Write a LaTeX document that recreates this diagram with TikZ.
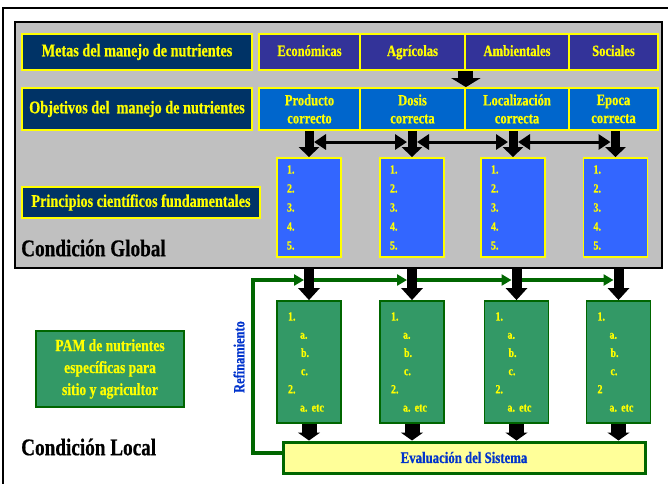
\documentclass[tikz,border=0pt]{standalone}
\usepackage{fontspec}
\setmainfont{Liberation Serif}[FakeStretch=0.8,BoldFeatures={FakeBold=0.6}]
\usetikzlibrary{arrows.meta,calc}
\definecolor{navy}{HTML}{003366}
\definecolor{purp}{HTML}{333399}
\definecolor{midblue}{HTML}{0066CC}
\definecolor{brblue}{HTML}{3366FF}
\definecolor{grn}{HTML}{339966}
\definecolor{dgrn}{HTML}{006600}
\definecolor{ylw}{HTML}{FFFF00}
\definecolor{lylw}{HTML}{FFFF99}
\definecolor{pgray}{HTML}{C0C0C0}
\definecolor{txtblue}{HTML}{0033CC}
\begin{document}
\begin{tikzpicture}[x=1pt,y=-1pt,
  box/.style={draw=ylw,line width=1.8pt,text=ylw,inner sep=0pt,align=center,
    font=\frenchspacing\bfseries\fontsize{15.7}{18}\selectfont},
  lbl/.style={box,fill=navy,font=\bfseries\fontsize{17.8}{20}\selectfont},
  meta/.style={box,fill=purp,minimum height=36pt,text height=11pt,text depth=3pt},
  obj/.style={box,fill=midblue,minimum height=42pt},
  pbox/.style={box,fill=brblue,minimum height=99pt,text width=44pt,inner xsep=10pt,
    align=left,font=\bfseries\fontsize{12.5}{19}\selectfont},
  gbox/.style={draw=dgrn,line width=1.8pt,fill=grn,text=ylw,inner sep=0pt,
    minimum height=122pt,text width=42pt,inner xsep=11pt,align=left,
    font=\frenchspacing\bfseries\fontsize{12.5}{18.2}\selectfont},
  panelbox/.style={draw=black,line width=2.5pt,fill=pgray,inner sep=0pt},
  bigtxt/.style={anchor=west,inner sep=0pt,font=\bfseries\fontsize{24}{26}\selectfont},
  bigblk/.style={line width=15pt,-{Triangle[width=29pt,length=9pt]}},
  blk/.style={line width=9pt,-{Triangle[width=20pt,length=10pt]}},
  blktwo/.style={line width=10pt,-{Triangle[width=21pt,length=12pt]}},
  blkthree/.style={line width=15pt,-{Triangle[width=22pt,length=8pt]}},
  dbl/.style={line width=3pt,{Triangle[width=15pt,length=12pt]}-{Triangle[width=15pt,length=12pt]}},
  garr/.style={draw=dgrn,line width=4pt,-{Triangle[width=11pt,length=10pt]}}
]
\useasboundingbox (0,0) rectangle (668,483);
\draw[line width=1.4pt] (3,490) -- (3,8) -- (672,8);

\node[panelbox,minimum width=647pt,minimum height=246pt] (panel) at (338.5,145) {};

% metas row
\node[lbl,minimum width=230pt,minimum height=36pt] (metas) at (137,52) {Metas del manejo de nutrientes};
\node[meta,minimum width=101pt] (eco) at (309.5,52) {Económicas};
\node[meta,minimum width=105pt] (agr) at (412.5,52) {Agrícolas};
\node[meta,minimum width=104pt] (amb) at (517,52) {Ambientales};
\node[meta,minimum width=89pt] (soc) at (613.5,52) {Sociales};

% objetivos row
\node[lbl,minimum width=230pt,minimum height=42pt] (objl) at (137,109) {Objetivos del\ \ manejo de nutrientes};
\node[obj,minimum width=101pt] (prod) at (309.5,109) {Producto\\correcto};
\node[obj,minimum width=105pt] (dos) at (412.5,109) {Dosis\\correcta};
\node[obj,minimum width=104pt] (loc) at (517,109) {Localización\\correcta};
\node[obj,minimum width=89pt] (epo) at (613.5,109) {Epoca\\correcta};

% principios
\node[lbl,minimum width=238pt,minimum height=31pt] (princ) at (141,202.5) {Principios científicos fundamentales};
\node[pbox] (p1) at (309,207.5) {1.\\2.\\3.\\4.\\5.};
\node[pbox] (p2) at (412,207.5) {1.\\2.\\3.\\4.\\5.};
\node[pbox] (p3) at (513,207.5) {1.\\2.\\3.\\4.\\5.};
\node[pbox] (p4) at (615.5,207.5) {1.\\2.\\3.\\4.\\5.};
\node[bigtxt] (glob) at (21,248) {Condición Global};

% arrows in panel
\draw[bigblk] (agr.south east) -- (dos.north east);
\coordinate (hy) at (0,142);
\draw[blk] (p1.north |- prod.south) -- (p1.north);
\draw[blk] (p2.north |- dos.south) -- (p2.north);
\draw[blk] (p3.north |- loc.south) -- (p3.north);
\draw[blk] (p4.north |- epo.south) -- (p4.north);
\draw[dbl] ([xshift=5pt]p1.north |- hy) -- ([xshift=-5pt]p2.north |- hy);
\draw[dbl] ([xshift=5pt]p2.north |- hy) -- ([xshift=-5pt]p3.north |- hy);
\draw[dbl] ([xshift=5pt]p3.north |- hy) -- ([xshift=-5pt]p4.north |- hy);

% local part
\node[gbox] (g1) at (309,362) {1.\\\hspace*{12pt}a.\\\hspace*{13pt}b.\\\hspace*{13pt}c.\\2.\\\hspace*{12pt}a. etc};
\node[gbox] (g2) at (412,362) {1.\\\hspace*{12pt}a.\\\hspace*{13pt}b.\\\hspace*{13pt}c.\\2.\\\hspace*{12pt}a. etc};
\node[gbox] (g3) at (516.5,362) {1.\\\hspace*{12pt}a.\\\hspace*{13pt}b.\\\hspace*{13pt}c.\\2.\\\hspace*{12pt}a. etc};
\node[gbox] (g4) at (618.5,362) {1.\\\hspace*{12pt}a.\\\hspace*{13pt}b.\\\hspace*{13pt}c.\\2\\\hspace*{12pt}a. etc};

\node[draw=dgrn,line width=3pt,fill=lylw,text=txtblue,minimum width=362pt,minimum height=31pt,
  inner sep=0pt,font=\bfseries\fontsize{16}{18}\selectfont] (eval) at (464,457.5) {Evaluación del Sistema};

\node[draw=dgrn,line width=2pt,fill=grn,text=ylw,minimum width=148pt,minimum height=76pt,inner sep=0pt,
  align=center,font=\bfseries\fontsize{17}{22}\selectfont] (pam) at (110,369) {PAM de nutrientes\\específicas para\\sitio y agricultor};

\node[rotate=90,text=txtblue,inner sep=0pt,font=\bfseries\fontsize{15.5}{17}\selectfont] (refin) at (239,357) {Refinamiento};
\node[bigtxt] (local) at (21,447) {Condición Local};

% feedback line
\coordinate (fb) at (253,280);
\draw[garr] ([yshift=4.5pt]eval.west) -| (fb) -- ([xshift=-5pt]g1.north |- fb);
\draw[garr] ([xshift=5pt]g1.north |- fb) -- ([xshift=-5pt]g2.north |- fb);
\draw[garr] ([xshift=5pt]g2.north |- fb) -- ([xshift=-5pt]g3.north |- fb);
\draw[garr] ([xshift=5pt]g3.north |- fb) -- ([xshift=-5pt]g4.north |- fb);

\draw[blktwo] (g1.north |- panel.south) -- (g1.north);
\draw[blktwo] (g2.north |- panel.south) -- (g2.north);
\draw[blktwo] (g3.north |- panel.south) -- (g3.north);
\draw[blktwo] (g4.north |- panel.south) -- (g4.north);

\draw[blkthree] (g1.south) -- (g1.south |- eval.north);
\draw[blkthree] (g2.south) -- (g2.south |- eval.north);
\draw[blkthree] (g3.south) -- (g3.south |- eval.north);
\draw[blkthree] (g4.south) -- (g4.south |- eval.north);
\end{tikzpicture}
\end{document}
